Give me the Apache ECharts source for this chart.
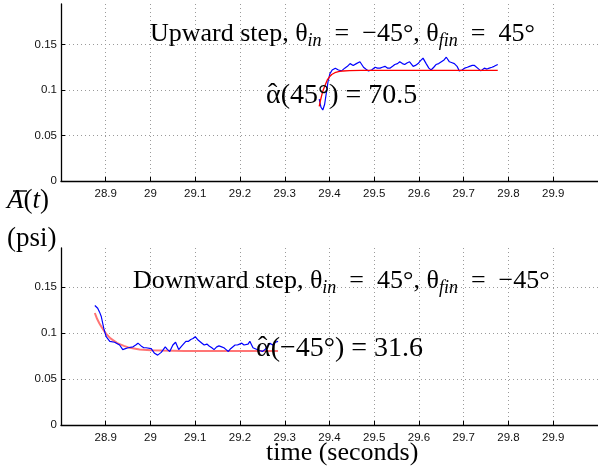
<!DOCTYPE html>
<html>
<head>
<meta charset="utf-8">
<script src="https://cdn.jsdelivr.net/npm/echarts@6/dist/echarts.min.js"></script>
<style>
html,body{margin:0;padding:0;background:#fff;}
#chart{width:598px;height:474px;}
</style>
</head>
<body>
<div id="chart"></div>
<script>
// ---- data (time in seconds, pressure amplitude in psi) ----
const xTicks = [28.9, 29, 29.1, 29.2, 29.3, 29.4, 29.5, 29.6, 29.7, 29.8, 29.9];
const yTicks = [0, 0.05, 0.1, 0.15];

const upMeasured = [
  [29.377,0.090],[29.381,0.081],[29.385,0.078],[29.389,0.084],[29.393,0.097],[29.397,0.110],
  [29.401,0.118],[29.406,0.122],[29.413,0.124],[29.420,0.122],[29.427,0.121],[29.434,0.124],
  [29.440,0.126],[29.446,0.129],[29.453,0.127],[29.460,0.129],[29.468,0.131],[29.476,0.125],
  [29.481,0.123],[29.487,0.121],[29.494,0.122],[29.502,0.125],[29.507,0.124],[29.513,0.124],
  [29.518,0.125],[29.524,0.126],[29.530,0.124],[29.535,0.124],[29.541,0.126],[29.546,0.128],
  [29.552,0.129],[29.557,0.131],[29.563,0.129],[29.568,0.128],[29.574,0.130],[29.579,0.131],
  [29.587,0.126],[29.592,0.127],[29.598,0.129],[29.603,0.132],[29.609,0.135],[29.616,0.129],
  [29.622,0.124],[29.627,0.122],[29.633,0.125],[29.638,0.128],[29.644,0.129],[29.650,0.131],
  [29.656,0.133],[29.661,0.136],[29.668,0.131],[29.674,0.130],[29.679,0.129],[29.685,0.126],
  [29.690,0.121],[29.696,0.122],[29.702,0.124],[29.708,0.125],[29.713,0.126],[29.719,0.127],
  [29.724,0.127],[29.731,0.124],[29.738,0.121],[29.742,0.123],[29.746,0.124],[29.752,0.123],
  [29.757,0.124],[29.763,0.125],[29.768,0.126],[29.772,0.125],[29.776,0.128]
];
const upFit = [
  [29.377,0.082],[29.380,0.089],[29.383,0.095],[29.386,0.100],[29.390,0.105],[29.395,0.111],
  [29.400,0.1145],[29.405,0.117],[29.412,0.119],[29.420,0.1202],[29.430,0.1209],[29.445,0.1213],
  [29.470,0.1215],[29.776,0.1215]
];
const downMeasured = [
  [28.8756,0.130],[28.879,0.128],[28.882,0.127],[28.886,0.123],[28.890,0.118],[28.8956,0.105],
  [28.901,0.096],[28.909,0.091],[28.920,0.090],[28.931,0.087],[28.938,0.082],[28.944,0.083],
  [28.950,0.084],[28.961,0.085],[28.967,0.087],[28.972,0.089],[28.979,0.086],[28.985,0.084],
  [28.990,0.084],[29.0016,0.083],[29.009,0.078],[29.016,0.076],[29.024,0.079],[29.033,0.085],
  [29.038,0.082],[29.043,0.080],[29.050,0.087],[29.056,0.090],[29.063,0.082],[29.070,0.086],
  [29.079,0.091],[29.085,0.091],[29.090,0.093],[29.095,0.094],[29.100,0.096],[29.105,0.093],
  [29.109,0.091],[29.115,0.089],[29.120,0.087],[29.126,0.088],[29.131,0.086],[29.137,0.084],
  [29.142,0.082],[29.148,0.085],[29.153,0.086],[29.159,0.085],[29.164,0.084],[29.169,0.082],
  [29.174,0.080],[29.179,0.083],[29.183,0.085],[29.189,0.087],[29.194,0.087],[29.199,0.088],
  [29.204,0.089],[29.209,0.087],[29.213,0.085],[29.218,0.088],[29.222,0.091],[29.226,0.087],
  [29.229,0.084],[29.234,0.083],[29.238,0.082],[29.244,0.081],[29.250,0.080],[29.256,0.082],
  [29.262,0.086],[29.267,0.089],[29.273,0.087],[29.279,0.090],[29.285,0.091]
];
const downFit = [
  [28.8756,0.1218],[28.8806,0.1155],[28.8856,0.1107],[28.8906,0.1065],[28.8956,0.1028],
  [28.9006,0.0993],[28.9106,0.0942],[28.9256,0.0890],[28.9406,0.0860],[28.9506,0.0844],
  [28.9756,0.0822],[29.0006,0.0813],[29.0256,0.0810],[29.0756,0.0806],[29.285,0.0805]
];

// ---- chart ----
const chart = echarts.init(document.getElementById('chart'), null, {renderer:'canvas'});
const sans = 'Liberation Sans';
const serif = 'Liberation Serif';

function xAxisDef(gi){
  return {
    type:'value', gridIndex:gi, min:28.8, max:30, interval:0.1,
    axisLine:{show:true, onZero:false, lineStyle:{color:'#000', width:1.3}},
    axisTick:{show:true, inside:true, length:4, lineStyle:{color:'#000'}},
    axisLabel:{show:true, showMinLabel:false, showMaxLabel:false, margin:7,
      fontFamily:sans, fontSize:11.5, color:'#111',
      formatter:function(v){ return xTicks.some(t=>Math.abs(t-v)<1e-6) ? String(Math.round(v*10)/10) : ''; }},
    splitLine:{show:true, showMinLine:false, showMaxLine:false, lineStyle:{color:'#9a9a9a', type:[1,3], width:1}}
  };
}
function yAxisDef(gi, max){
  return {
    type:'value', gridIndex:gi, min:0, max:max, interval:0.05,
    axisLine:{show:true, lineStyle:{color:'#000', width:1.3}},
    axisTick:{show:true, inside:true, length:4, lineStyle:{color:'#000'}},
    axisLabel:{show:true, showMaxLabel:false, margin:4, fontFamily:sans, fontSize:11.5, color:'#111',
      formatter:function(v){ return yTicks.some(t=>Math.abs(t-v)<1e-6) ? String(Math.round(v*100)/100) : ''; }},
    splitLine:{show:true, showMinLine:false, showMaxLine:false, lineStyle:{color:'#9a9a9a', type:[1,3], width:1}}
  };
}

const richBase = {
  n:{fontFamily:serif, fontSize:26, lineHeight:32, color:'#000'},
  s:{fontFamily:serif, fontSize:18, fontStyle:'italic', lineHeight:16, verticalAlign:'bottom', color:'#000'}
};
const richAlpha = {
  n:{fontFamily:serif, fontSize:28, lineHeight:32, color:'#000'}
};
const SP = '\u2002'; // en space, mimics TeX spacing around "="

const option = {
  animation:false,
  backgroundColor:'#fff',
  grid:[
    {left:61, top:4, width:540, height:177},
    {left:61, top:248, width:540, height:177}
  ],
  xAxis:[xAxisDef(0), xAxisDef(1)],
  yAxis:[yAxisDef(0, 0.1945), yAxisDef(1, 0.1925)],
  series:[
    {type:'line', xAxisIndex:0, yAxisIndex:0, data:upMeasured, showSymbol:false, z:2,
      lineStyle:{color:'#0000ff', width:1.2}},
    {type:'line', xAxisIndex:0, yAxisIndex:0, data:upFit, showSymbol:false, smooth:false, z:3,
      lineStyle:{color:'#ff0000', width:1.3}},
    {type:'line', xAxisIndex:1, yAxisIndex:1, data:downFit, showSymbol:false, z:2,
      lineStyle:{color:'#ff7575', width:2}},
    {type:'line', xAxisIndex:1, yAxisIndex:1, data:downMeasured, showSymbol:false, z:3,
      lineStyle:{color:'#0000ff', width:1.2}}
  ],
  graphic:[
    {type:'text', left:150, top:21, z:10, style:{
      text:'{n|Upward step, θ}{s|in}{n|'+SP+'='+SP+'−45°, θ}{s|fin}{n|'+SP+'='+SP+'45°}', rich:richBase}},
    {type:'text', left:266, top:82, z:10, style:{
      text:'{n|α(45°) = 70.5}', rich:richAlpha}},
    {type:'text', left:268, top:81, z:11, style:{
      text:'ˆ', font:'28px "Liberation Serif"', fill:'#000'}},
    {type:'text', left:133, top:268, z:10, style:{
      text:'{n|Downward step, θ}{s|in}{n|'+SP+'='+SP+'45°, θ}{s|fin}{n|'+SP+'='+SP+'−45°}', rich:richBase}},
    {type:'text', left:256, top:335, z:10, style:{
      text:'{n|α(−45°) = 31.6}', rich:richAlpha}},
    {type:'text', left:258, top:334, z:11, style:{
      text:'ˆ', font:'28px "Liberation Serif"', fill:'#000'}},
    {type:'text', left:266, top:440, z:10, style:{
      text:'time (seconds)', font:'26px "Liberation Serif"', fill:'#000'}},
    {type:'text', left:7, top:187, z:10, style:{
      text:'{i|A}{n|(}{i|t}{n|)}', rich:{
        i:{fontFamily:serif, fontSize:27, fontStyle:'italic', color:'#000'},
        n:{fontFamily:serif, fontSize:27, color:'#000'}}}},
    {type:'line', z:10, shape:{x1:13, y1:191, x2:27, y2:191}, style:{stroke:'#000', lineWidth:1.4}},
    {type:'text', left:7, top:225, z:10, style:{
      text:'(psi)', font:'27px "Liberation Serif"', fill:'#000'}}
  ]
};
chart.setOption(option);
</script>
</body>
</html>
